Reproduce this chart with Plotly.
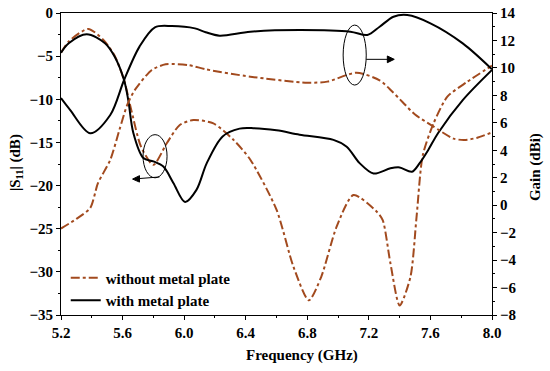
import plotly.graph_objects as go

# ---- data ----
freq_s11_with = [5.2, 5.25, 5.367, 5.486, 5.55, 5.61, 5.637, 5.67, 5.735, 5.80, 5.865, 5.93, 6.006, 6.08, 6.147,
                 6.25, 6.36, 6.45, 6.6, 6.75, 6.97, 7.056, 7.14, 7.23, 7.34, 7.40, 7.48, 7.53, 7.585, 7.65, 7.81, 8.0]
s11_with = [-4.6, -3.5, -2.45, -3.5, -5.1, -7.8, -10.1, -13.9, -16.8, -17.2, -17.8, -19.7, -21.9, -20.5, -17.4,
            -14.3, -13.4, -13.35, -13.6, -14.1, -14.7, -15.5, -17.4, -18.6, -18.0, -17.9, -18.4, -17.4, -15.9, -13.9, -10.1, -6.6]

freq_s11_without = [5.2, 5.25, 5.377, 5.48, 5.55, 5.61, 5.66, 5.72, 5.80, 5.887, 5.97, 6.06, 6.19, 6.32, 6.43, 6.60,
                    6.71, 6.81, 6.89, 6.99, 7.10, 7.25, 7.29, 7.34, 7.40, 7.47, 7.51, 7.55, 7.62, 7.71, 7.84, 8.0]
s11_without = [-4.6, -3.3, -1.85, -3.2, -5.0, -7.8, -11.5, -15.5, -17.6, -15.1, -13.0, -12.4, -12.8, -14.7, -17.0, -22.8,
               -29.4, -33.3, -30.6, -24.8, -21.1, -23.0, -24.0, -29.0, -33.9, -30.6, -23.6, -16.5, -12.8, -9.7, -7.96, -6.1]

freq_gain_with = [5.2, 5.26, 5.39, 5.52, 5.61, 5.71, 5.81, 5.92, 6.07, 6.14, 6.23, 6.43, 6.75, 7.08, 7.19, 7.27,
                  7.36, 7.45, 7.60, 7.81, 8.0]
gain_with = [7.8, 6.93, 5.24, 6.57, 9.12, 11.55, 12.96, 13.05, 12.88, 12.6, 12.35, 12.64, 12.76, 12.64, 12.4, 13.0,
             13.73, 13.85, 13.25, 11.79, 9.9]

freq_gain_without = [5.2, 5.30, 5.39, 5.44, 5.52, 5.58, 5.63, 5.68, 5.79, 5.88, 6.03, 6.14, 6.43, 6.80, 6.93, 7.12,
                     7.27, 7.35, 7.42, 7.50, 7.61, 7.75, 7.82, 7.90, 8.0]
gain_without = [-1.7, -1.0, -0.2, 1.6, 3.3, 5.5, 7.3, 8.4, 9.85, 10.26, 10.2, 9.9, 9.36, 8.92, 9.0, 9.65,
                9.1, 8.3, 7.5, 6.6, 5.8, 4.85, 4.75, 4.9, 5.3]

x_ticks = [5.2, 5.6, 6.0, 6.4, 6.8, 7.2, 7.6, 8.0]
y_left_ticks = [0, -5, -10, -15, -20, -25, -30, -35]
y_right_ticks = [14, 12, 10, 8, 6, 4, 2, 0, -2, -4, -6, -8]

BROWN = "#A24A1E"
FAM = "Liberation Serif, Times New Roman, serif"
FONT = dict(family=FAM, size=15, color="black", weight="bold")

fig = go.Figure()
fig.add_trace(go.Scatter(x=freq_s11_without, y=s11_without, mode="lines", name="without metal plate",
                         line=dict(color=BROWN, width=2, dash="dashdot", shape="spline", smoothing=0.7)))
fig.add_trace(go.Scatter(x=freq_s11_with, y=s11_with, mode="lines", name="with metal plate",
                         line=dict(color="black", width=2, shape="spline", smoothing=0.9)))
fig.add_trace(go.Scatter(x=freq_gain_without, y=gain_without, mode="lines", showlegend=False, yaxis="y2",
                         line=dict(color=BROWN, width=2, dash="dashdot", shape="spline", smoothing=0.7)))
fig.add_trace(go.Scatter(x=freq_gain_with, y=gain_with, mode="lines", showlegend=False, yaxis="y2",
                         line=dict(color="black", width=2, shape="spline", smoothing=0.9)))

# ellipses & arrows (decorations)
thin = dict(color="black", width=1)
fig.add_shape(type="circle", xref="x", yref="y", line=thin, x0=5.733, x1=5.889, y0=-19.1, y1=-14.1)
fig.add_shape(type="circle", xref="x", yref="y", line=thin, x0=7.033, x1=7.183, y0=-8.35, y1=-1.4)
# left arrow
fig.add_shape(type="line", xref="x", yref="y", line=thin, x0=5.84, y0=-19.0, x1=5.70, y1=-19.2)
fig.add_shape(type="path", xref="x", yref="y", line=thin, fillcolor="black",
              path="M 5.665 -19.25 L 5.71 -18.85 L 5.71 -19.6 Z")
# right arrow
fig.add_shape(type="line", xref="x", yref="y", line=thin, x0=7.183, y0=-5.37, x1=7.33, y1=-5.37)
fig.add_shape(type="path", xref="x", yref="y", line=thin, fillcolor="black",
              path="M 7.365 -5.37 L 7.32 -4.98 L 7.32 -5.76 Z")

# axis titles as annotations
fig.add_annotation(text="Frequency (GHz)", xref="paper", yref="paper", x=0.559, y=-0.135,
                   xanchor="center", yanchor="middle", showarrow=False, font=FONT)
fig.add_annotation(text="|S<sub>11</sub>| (dB)", xref="paper", yref="paper", x=-0.103, y=0.505,
                   xanchor="center", yanchor="middle", showarrow=False, textangle=-90, font=FONT)
fig.add_annotation(text="Gain (dBi)", xref="paper", yref="paper", x=1.10, y=0.49,
                   xanchor="center", yanchor="middle", showarrow=False, textangle=-90, font=FONT)

fig.update_layout(
    width=550, height=371,
    margin=dict(l=61, r=58, t=13, b=56),
    paper_bgcolor="white", plot_bgcolor="white",
    font=FONT,
    showlegend=True,
    legend=dict(x=0.011, y=-0.005, xanchor="left", yanchor="bottom", bgcolor="rgba(0,0,0,0)",
                font=dict(family=FAM, size=15, color="black", weight="bold"),
                tracegroupgap=0, itemwidth=30),
    xaxis=dict(range=[5.2, 8.0], tickvals=x_ticks, ticktext=[f"{v:.1f}" for v in x_ticks],
               showgrid=False, zeroline=False, showline=True, linecolor="black", linewidth=1,
               mirror=True, ticks="outside", ticklen=4, tickcolor="black", automargin=False,
               minor=dict(dtick=0.2, ticks="outside", ticklen=2, tickcolor="black"), tickfont=FONT),
    yaxis=dict(range=[-35, 0], tickvals=y_left_ticks, showgrid=False, zeroline=False, showline=True,
               linecolor="black", linewidth=1, ticks="outside", ticklen=4, tickcolor="black", automargin=False,
               minor=dict(dtick=2.5, ticks="outside", ticklen=2, tickcolor="black"), tickfont=FONT),
    yaxis2=dict(range=[-8, 14], tickvals=y_right_ticks, overlaying="y", side="right", showgrid=False,
                zeroline=False, showline=True, linecolor="black", linewidth=1, ticks="outside", ticklen=4,
                tickcolor="black", automargin=False,
                minor=dict(dtick=1, ticks="outside", ticklen=2, tickcolor="black"), tickfont=FONT),
)

# remove the browser's default 8px body margin so the figure sits at the page corner
fig.write_html("out.html", config={"displayModeBar": False},
               post_script="document.body.style.margin='0';")
